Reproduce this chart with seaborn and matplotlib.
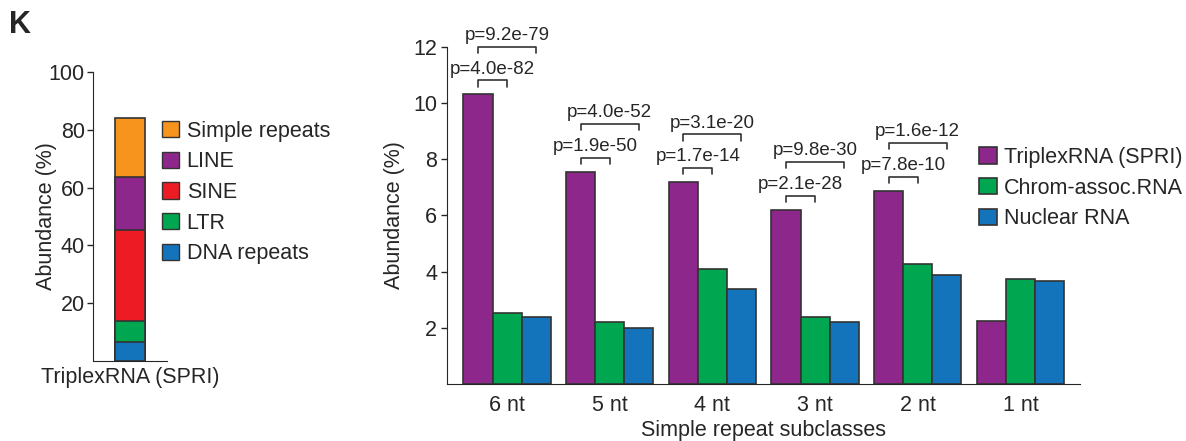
import matplotlib
matplotlib.use("Agg")
import matplotlib.pyplot as plt
import matplotlib.patches as mpatches
import numpy as np
import pandas as pd
import seaborn as sns

# left panel: repeat composition of TriplexRNA (SPRI), bottom -> top
repeat_classes = ['DNA repeats', 'LTR', 'SINE', 'LINE', 'Simple repeats']
repeat_values = [6.5, 7.3, 31.7, 18.0, 20.5]
repeat_colors = ['#1374BB', '#00A650', '#ED1C24', '#8E278C', '#F7941D']

# right panel: simple repeat subclasses
subclasses = ['6 nt', '5 nt', '4 nt', '3 nt', '2 nt', '1 nt']
triplex = [10.3, 7.54, 7.18, 6.2, 6.88, 2.25]
chrom = [2.53, 2.22, 4.08, 2.4, 4.26, 3.73]
nuclear = [2.4, 1.98, 3.38, 2.22, 3.86, 3.65]
series_names = ['TriplexRNA (SPRI)', 'Chrom-assoc.RNA', 'Nuclear RNA']
series_colors = ['#8E278C', '#00A650', '#1374BB']
p_green = ['4.0e-82', '1.9e-50', '1.7e-14', '2.1e-28', '7.8e-10']
p_blue = ['9.2e-79', '4.0e-52', '3.1e-20', '9.8e-30', '1.6e-12']

sns.set_style('ticks')
plt.rcParams['font.family'] = ['Liberation Sans', 'DejaVu Sans']

FS = 15.5
fig = plt.figure(figsize=(11.86, 4.41), dpi=100)
ax1 = fig.add_axes([0.0784, 0.1814, 0.0624, 0.6553])
ax2 = fig.add_axes([0.3769, 0.1293, 0.5337, 0.7648])

edge = '#333333'

# stacked bar: draw cumulative totals from the top layer down
cum = np.cumsum(repeat_values)
for i in range(len(repeat_classes) - 1, -1, -1):
    sns.barplot(x=['TriplexRNA (SPRI)'], y=[cum[i]], color=repeat_colors[i],
                edgecolor=edge, linewidth=1.2, width=1.0, saturation=1, ax=ax1)
ax1.set_xlim(-1.2, 1.2)
ax1.set_ylim(0, 100)
ax1.set_yticks([20, 40, 60, 80, 100])
ax1.set_ylabel('Abundance (%)', fontsize=FS, labelpad=-6)
ax1.set_xlabel('')
ax1.tick_params(axis='y', labelsize=FS, length=4, width=1, pad=2)
ax1.tick_params(axis='x', labelsize=FS, length=0, pad=4)
sns.despine(ax=ax1)
handles = [mpatches.Patch(facecolor=repeat_colors[i], edgecolor=edge, label=repeat_classes[i])
           for i in range(len(repeat_classes) - 1, -1, -1)]
ax1.legend(handles=handles, loc='upper left', bbox_to_anchor=(0.93, 0.832), frameon=False,
           fontsize=FS, handlelength=0.8, handleheight=0.8, handletextpad=0.35,
           labelspacing=0.45, borderaxespad=0, borderpad=0)

# grouped bars
df = pd.DataFrame({
    'subclass': subclasses * 3,
    'abundance': triplex + chrom + nuclear,
    'source': [s for s in series_names for _ in subclasses],
})
sns.barplot(data=df, x='subclass', y='abundance', hue='source', palette=series_colors,
            edgecolor=edge, linewidth=1.2, width=0.85, gap=0, saturation=1, ax=ax2)
ax2.set_xlim(-0.585, 5.58)
ax2.set_ylim(0, 12)
ax2.set_yticks([2, 4, 6, 8, 10, 12])
ax2.set_ylabel('Abundance (%)', fontsize=FS, labelpad=6)
ax2.set_xlabel('Simple repeat subclasses', fontsize=FS, labelpad=3)
ax2.tick_params(axis='y', labelsize=FS, length=4, width=1, pad=3)
ax2.tick_params(axis='x', labelsize=FS, length=0, pad=8)
sns.despine(ax=ax2)
ax2.legend(loc='upper left', bbox_to_anchor=(0.841, 0.703), frameon=False, fontsize=FS,
           handlelength=0.8, handleheight=0.8, handletextpad=0.35, labelspacing=0.45,
           borderaxespad=0, borderpad=0)

# significance brackets
bw = 0.85 / 3
for i in range(len(p_green)):
    x0 = i - bw
    x1 = i
    x2 = i + bw
    y1 = triplex[i] + 0.5
    y2 = triplex[i] + 1.7
    ax2.plot([x0, x0, x1, x1], [y1 - 0.22, y1, y1, y1 - 0.22], color=edge, lw=1.2, clip_on=False)
    ax2.text((x0 + x1) / 2, y1 + 0.1, 'p=' + p_green[i], ha='center', va='bottom',
             fontsize=13.5, clip_on=False)
    ax2.plot([x0, x0, x2, x2], [y2 - 0.22, y2, y2, y2 - 0.22], color=edge, lw=1.2, clip_on=False)
    ax2.text((x0 + x2) / 2, y2 + 0.1, 'p=' + p_blue[i], ha='center', va='bottom',
             fontsize=13.5, clip_on=False)

fig.text(0.008, 0.978, 'K', fontsize=22, fontweight='bold', va='top')

fig.savefig('out.png', dpi=100)
